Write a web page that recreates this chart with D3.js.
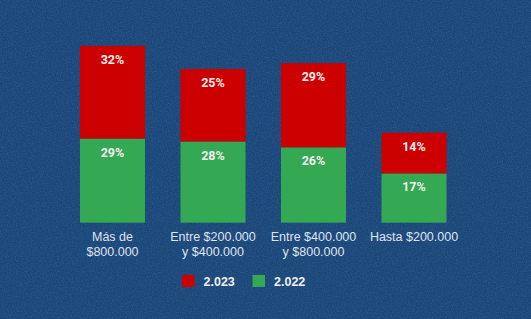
<!DOCTYPE html>
<html>
<head>
<meta charset="utf-8">
<script src="https://cdn.jsdelivr.net/npm/d3@7"></script>
<style>
  html, body { margin: 0; padding: 0; background: #1d497b; }
  svg { display: block; }
</style>
</head>
<body>
<script>
// stacked bars, 2.022 below and 2.023 on top
const categories = ["Más de\n$800.000", "Entre $200.000\ny $400.000", "Entre $400.000\ny $800.000", "Hasta $200.000"];
const values2022 = [29, 28, 26, 17];
const values2023 = [32, 25, 29, 14];
const seriesNames = ["2.023", "2.022"];

const w = 531, h = 319;
const red = "#cc0000", green = "#34a853";

const svg = d3.select("body").append("svg")
  .attr("width", w)
  .attr("height", h);

// background with a little grain
const defs = svg.append("defs");
const f = defs.append("filter").attr("id", "grain").attr("x", 0).attr("y", 0).attr("width", "100%").attr("height", "100%");
f.append("feTurbulence").attr("type", "fractalNoise").attr("baseFrequency", 0.8).attr("numOctaves", 2).attr("seed", 3);
f.append("feColorMatrix").attr("values", "0 0 0 0 0.25  0 0 0 0 0.45  0 0 0 0 0.7  0 0 0 0.28 -0.1");

svg.append("rect").attr("width", w).attr("height", h).attr("fill", "#1b4679");
svg.append("rect").attr("width", w).attr("height", h).attr("filter", "url(#grain)");

const x = d3.scaleBand()
  .domain(categories)
  .range([44.5, 482])
  .padding(0.353);

const y = d3.scaleLinear()
  .domain([0, 70])
  .range([222.7, 222.7 - 70 * 2.9]);

const rows = categories.map((c, i) => ({ cat: c, a: values2022[i], b: values2023[i] }));

// green (2.022)
svg.selectAll("rect.g")
  .data(rows)
  .enter()
  .append("rect")
  .attr("class", "g")
  .attr("x", d => x(d.cat))
  .attr("width", x.bandwidth())
  .attr("y", d => y(d.a))
  .attr("height", d => y(0) - y(d.a))
  .attr("fill", green);

// red (2.023)
svg.selectAll("rect.r")
  .data(rows)
  .enter()
  .append("rect")
  .attr("class", "r")
  .attr("x", d => x(d.cat))
  .attr("width", x.bandwidth())
  .attr("y", d => y(d.a + d.b))
  .attr("height", d => y(d.a) - y(d.a + d.b))
  .attr("fill", red);

const lbl = svg.append("g")
  .attr("font-family", "Roboto, sans-serif")
  .attr("font-weight", "bold")
  .attr("font-size", 12.5)
  .attr("text-anchor", "middle")
  .attr("fill", "#f3eeee");

lbl.selectAll("text.vg")
  .data(rows)
  .enter()
  .append("text")
  .attr("x", d => x(d.cat) + x.bandwidth() / 2)
  .attr("y", d => y(d.a) + 18)
  .text(d => d.a + "%");

lbl.selectAll("text.vr")
  .data(rows)
  .enter()
  .append("text")
  .attr("x", d => x(d.cat) + x.bandwidth() / 2)
  .attr("y", d => y(d.a + d.b) + 18)
  .text(d => d.b + "%");

// x axis, labels only
const xAxis = svg.append("g")
  .attr("transform", `translate(0,${y(0)})`)
  .call(d3.axisBottom(x).tickSize(0).tickPadding(0));
xAxis.select(".domain").remove();
xAxis.selectAll("text").remove();
xAxis.selectAll(".tick").append("text")
  .attr("fill", "#dfe4ee")
  .attr("font-family", "Liberation Sans, Arial, sans-serif")
  .attr("font-size", 12.5)
  .attr("text-anchor", "middle")
  .each(function (d) {
    const t = d3.select(this);
    d.split("\n").forEach((line, i) => {
      t.append("tspan").attr("x", 0).attr("y", 18 + i * 15.7).text(line);
    });
  });

// legend
const legend = svg.append("g").attr("transform", "translate(182,275)");
const items = legend.selectAll("g")
  .data(seriesNames)
  .enter()
  .append("g")
  .attr("transform", (d, i) => `translate(${i * 70.5},0)`);
items.append("rect")
  .attr("width", 12.5)
  .attr("height", 12)
  .attr("fill", (d, i) => i === 0 ? red : green);
items.append("text")
  .attr("x", 21.5)
  .attr("y", 10.5)
  .attr("fill", "#eef0f5")
  .attr("font-family", "Liberation Sans, Arial, sans-serif")
  .attr("font-weight", "bold")
  .attr("font-size", 12.5)
  .text(d => d);
</script>
</body>
</html>
